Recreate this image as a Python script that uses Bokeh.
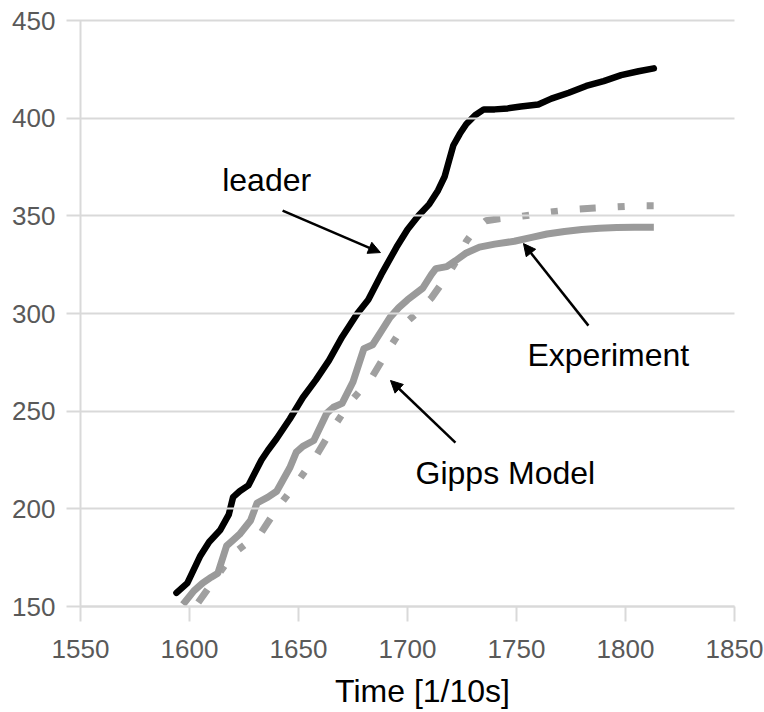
from bokeh.plotting import figure
from bokeh.models import FixedTicker, Label, Arrow, NormalHead, Range1d
from bokeh.embed import file_html
from bokeh.resources import INLINE

# ---- data ----
leader_t = [1594, 1599, 1605, 1609, 1614, 1618, 1620, 1623, 1627, 1633, 1636, 1640,
            1646, 1652, 1658, 1664, 1670, 1677, 1682, 1688, 1695, 1700, 1705, 1710,
            1714, 1717, 1719, 1721, 1724, 1727, 1731, 1735, 1740, 1746, 1752, 1760,
            1766, 1774, 1782, 1790, 1798, 1806, 1813]
leader_v = [157, 162, 176, 183, 189, 197, 206, 209, 212, 225, 230, 236,
            246, 257, 266, 276, 288, 300, 307, 320, 334, 343, 350, 356,
            363, 370, 378, 386, 392, 397, 401.5, 404.5, 404.5, 405, 406, 407,
            410, 413, 416.5, 419, 422, 424, 425.5]

exp_t = [1597, 1602, 1606, 1610, 1613, 1617, 1620, 1623, 1628, 1631, 1636, 1640,
         1646, 1649, 1652, 1657, 1663, 1666, 1670, 1675, 1680, 1684, 1688, 1692,
         1696, 1700, 1707, 1711, 1713, 1718, 1722, 1727, 1733, 1740, 1749, 1757,
         1764, 1772, 1780, 1788, 1796, 1804, 1813]
exp_v = [151, 158, 162, 165, 167, 181, 184, 187, 194, 203, 206, 209,
         221, 229, 232, 235, 249, 252, 254, 265, 282, 284, 291, 298,
         303, 307, 313, 320, 323, 324, 327, 331, 334, 335.5, 337, 339,
         340.7, 342, 343, 343.7, 344, 344.2, 344.2]

gipps_t = [1604, 1611, 1620, 1627, 1633, 1640, 1649, 1658, 1665, 1674, 1684, 1691,
           1699, 1705, 1711, 1718, 1723, 1727, 1731, 1736, 1742, 1749, 1757, 1764,
           1772, 1779, 1786, 1793, 1800, 1808, 1813]
gipps_v = [152, 163, 177, 183, 188, 200, 213, 227, 240, 255, 268, 281,
           295, 301, 308, 319, 328, 337, 343, 347.5, 348.5, 349.3, 350.5, 351.8,
           352.8, 353.5, 354, 354.4, 354.8, 355.2, 355.2]

x_ticks = [1550, 1600, 1650, 1700, 1750, 1800, 1850]
y_ticks = [150, 200, 250, 300, 350, 400, 450]
x_label = "Time [1/10s]"

# annotations: (text, x, y) and arrows (x0, y0, x1, y1) in data units
notes = [("leader", 1615, 368.6), ("Experiment", 1755, 278.5), ("Gipps Model", 1703.7, 218.1)]
arrows = [(1642.7, 352.7, 1687.6, 331.2),
          (1783.0, 293.8, 1753.2, 335.8),
          (1722.0, 233.9, 1692.2, 265.7)]
x_label_pos = (1706.9, 106.6)

FONT = "Liberation Sans"
GRID = "#d9d9d9"

# plot box of the chart in page pixels: x 80..734, y 20..606 (page 764 x 712)
W, H = 764, 712
X0, X1, Y0, Y1 = 1550, 1850, 150, 450
PX_L, PX_R, PX_T, PX_B = 80, 734, 20, 606
kx = (PX_R - PX_L) / (X1 - X0)
ky = (PX_B - PX_T) / (Y1 - Y0)
xr = Range1d(X0 - PX_L / kx, X1 + (W - PX_R) / kx)
yr = Range1d(Y0 - (H - PX_B) / ky, Y1 + PX_T / ky)

p = figure(width=W, height=H, output_backend="svg", toolbar_location=None,
           x_range=xr, y_range=yr, min_border=0,
           min_border_left=0, min_border_right=0, min_border_top=0,
           min_border_bottom=0)
p.outline_line_color = None
p.background_fill_color = "white"
p.border_fill_color = "white"
p.xgrid.visible = False
p.ygrid.visible = False

for ax, ticks in ((p.xaxis[0], x_ticks), (p.yaxis[0], y_ticks)):
    ax.ticker = FixedTicker(ticks=ticks)
    ax.axis_line_color = GRID
    ax.axis_line_width = 2
    ax.major_tick_line_color = GRID
    ax.major_tick_line_width = 2
    ax.minor_tick_line_color = None
    ax.major_label_text_font = FONT
    ax.major_label_text_font_size = "26px"
    ax.major_label_text_color = "#595959"

p.xaxis.fixed_location = Y0
p.xaxis.bounds = (X0, X1)
p.xaxis.major_tick_in = 0
p.xaxis.major_tick_out = 15
p.xaxis.major_label_standoff = 18

# y axis ticks reach across the plot box and act as the horizontal grid lines
p.yaxis.fixed_location = X0
p.yaxis.bounds = (Y0, Y1)
p.yaxis.major_tick_in = PX_R - PX_L
p.yaxis.major_tick_out = 14
p.yaxis.major_label_standoff = 11

p.line(gipps_t, gipps_v, line_color="#a0a0a0", line_width=7,
       line_dash="16 22 7 22 7 22")
p.line(exp_t, exp_v, line_color="#9a9a9a", line_width=7, line_join="round")
p.line(leader_t, leader_v, line_color="black", line_width=6.5, line_join="round",
       line_cap="round")

for txt, tx, ty in notes:
    p.add_layout(Label(x=tx, y=ty, text=txt, text_font=FONT, text_font_size="32px",
                       text_color="black", text_baseline="alphabetic", text_align="left"))

for x0, y0, x1, y1 in arrows:
    p.add_layout(Arrow(x_start=x0, y_start=y0, x_end=x1, y_end=y1,
                       line_color="black", line_width=2.5,
                       end=NormalHead(size=12, fill_color="black", line_color="black",
                                      line_width=1)))

p.add_layout(Label(x=x_label_pos[0], y=x_label_pos[1], text=x_label, text_font=FONT,
                   text_font_size="32px", text_color="black",
                   text_baseline="alphabetic", text_align="center"))

open("out.html", "w").write(file_html(p, INLINE))
